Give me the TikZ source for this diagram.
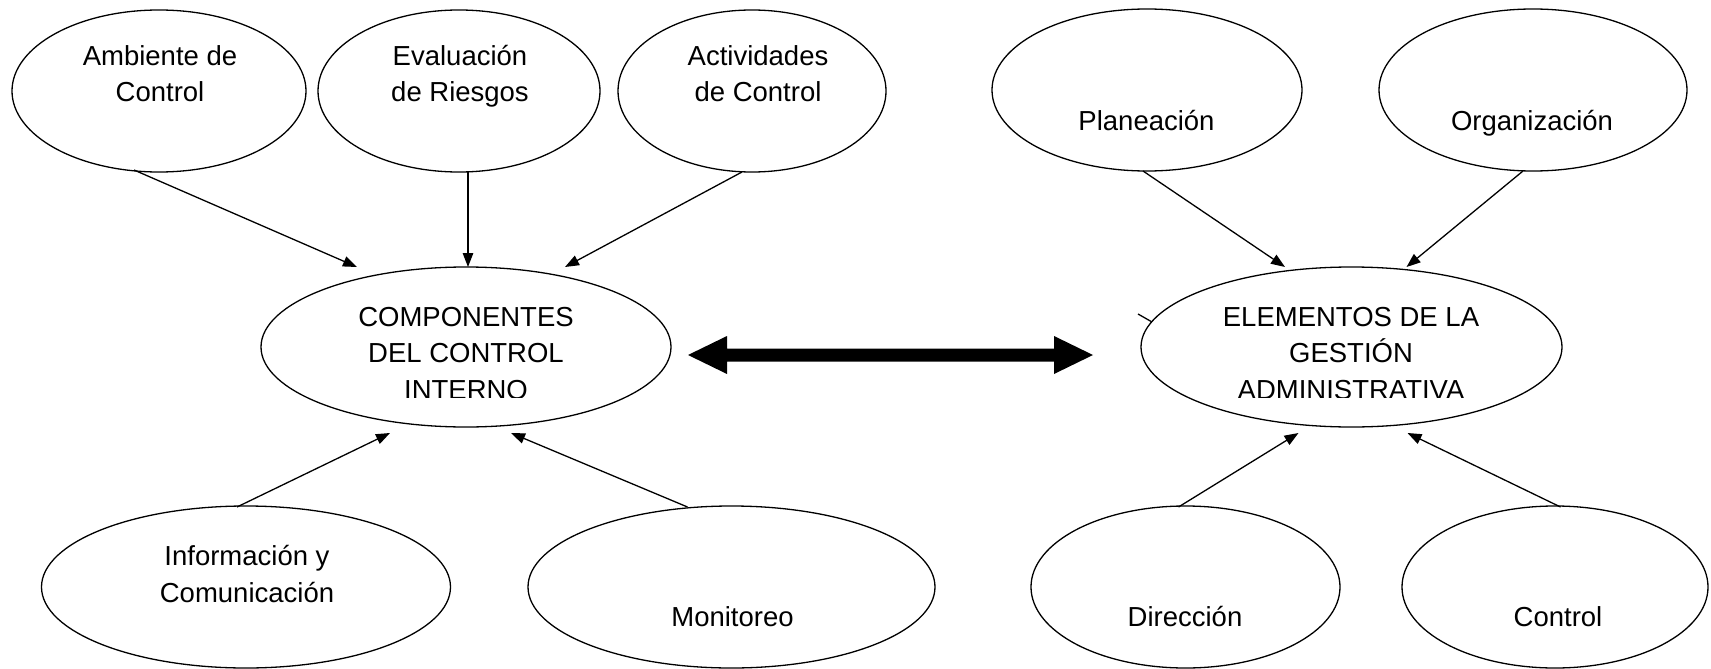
\documentclass[tikz,border=0pt]{standalone}
\usepackage{fontspec}
\setmainfont{Liberation Sans}
\usetikzlibrary{shapes.geometric,arrows.meta,calc}
\begin{document}
\begin{tikzpicture}[x=1pt,y=-1pt,
  bubble/.style={draw, ellipse, line width=1.3pt, inner sep=0pt, outer sep=0pt},
  lbl/.style={font=\fontsize{27.5}{36.7}\selectfont, align=center, inner sep=0pt, anchor=base},
  feed/.style={line width=1.3pt, -{Triangle[length=14pt,width=10.5pt]}}]
\useasboundingbox (0,0) rectangle (1711,669);

% Components of internal control
\node[bubble, minimum width=294pt, minimum height=162pt] (amb) at (159,91) {};
\node[bubble, minimum width=282pt, minimum height=162pt] (eva) at (459,91) {};
\node[bubble, minimum width=268pt, minimum height=162pt] (act) at (752,91) {};
\node[bubble, minimum width=409pt, minimum height=162pt] (inf) at (246,587) {};
\node[bubble, minimum width=407pt, minimum height=162pt] (mon) at (731.5,587) {};
\node[bubble, minimum width=410pt, minimum height=160pt] (cci) at (466,347) {};

% Elements of administrative management
\node[bubble, minimum width=310pt, minimum height=162pt] (pla) at (1147,90) {};
\node[bubble, minimum width=308pt, minimum height=162pt] (org) at (1533,90) {};
\node[bubble, minimum width=309pt, minimum height=162pt] (dir) at (1185.5,587) {};
\node[bubble, minimum width=306pt, minimum height=162pt] (ctl) at (1555,587) {};
\node[bubble, minimum width=421pt, minimum height=160pt] (ega) at (1351.5,347) {};

% Labels (base anchor = baseline of the last line)
\node[lbl] (amb-t) at (160,102) {Ambiente de\\Control};
\node[lbl] (eva-t) at (460,102) {Evaluación\\de Riesgos};
\node[lbl] (act-t) at (758,102) {Actividades\\de Control};
\node[lbl] (pla-t) at (1146.5,130) {Planeación};
\node[lbl] (org-t) at (1532,130) {Organización};
\node[lbl] (inf-t) at (247,602) {Información y\\Comunicación};
\node[lbl] (mon-t) at (732.5,626) {Monitoreo};
\node[lbl] (dir-t) at (1185,626) {Dirección};
\node[lbl] (ctl-t) at (1558,626) {Control};
\begin{scope}
  \clip (300,280) rectangle (640,397);
  \node[lbl] (cci-t) at (466,399.5) {COMPONENTES\\DEL CONTROL\\INTERNO};
\end{scope}
\begin{scope}
  \clip (1180,280) rectangle (1530,397);
  \node[lbl] (ega-t) at (1351,399.5) {ELEMENTOS DE LA\\GESTIÓN\\ADMINISTRATIVA};
\end{scope}

% Arrows into the left hub
\draw[feed] ($(amb)+(-25,79)$) -- ($(cci)+(-109,-80)$);
\draw[feed] ($(eva)+(9,81)$) -- ($(cci)+(2,-80)$);
\draw[feed] ($(act)+(-10,81)$) -- ($(cci)+(99,-80)$);
\draw[feed] ($(inf)+(-9,-80)$) -- ($(cci)+(-76,86)$);
\draw[feed] ($(mon)+(-44,-80)$) -- ($(cci)+(45,86)$);

% Arrows into the right hub
\draw[feed] ($(pla)+(-4,81)$) -- ($(ega)+(-66.5,-80)$);
\draw[feed] ($(org)+(-10,81)$) -- ($(ega)+(55,-80)$);
\draw[feed] ($(dir)+(-7,-80)$) -- ($(ega)+(-53,86)$);
\draw[feed] ($(ctl)+(5.5,-80)$) -- ($(ega)+(56,86)$);

% Short stray stroke at the left of the right hub
\draw[line width=1.3pt] ($(ega)+(-213.5,-33)$) -- ($(ega)+(-199.5,-25)$);

% Thick two-headed arrow between the hubs
\coordinate (dl) at (688,355);
\coordinate (dr) at (1093,355);
\fill (dl) -- ($(dl)+(39,-19)$) -- ($(dl)+(39,-6.5)$) -- ($(dr)+(-39,-6.5)$)
  -- ($(dr)+(-39,-19)$) -- (dr) -- ($(dr)+(-39,19)$) -- ($(dr)+(-39,6.5)$)
  -- ($(dl)+(39,6.5)$) -- ($(dl)+(39,19)$) -- cycle;
\end{tikzpicture}
\end{document}
